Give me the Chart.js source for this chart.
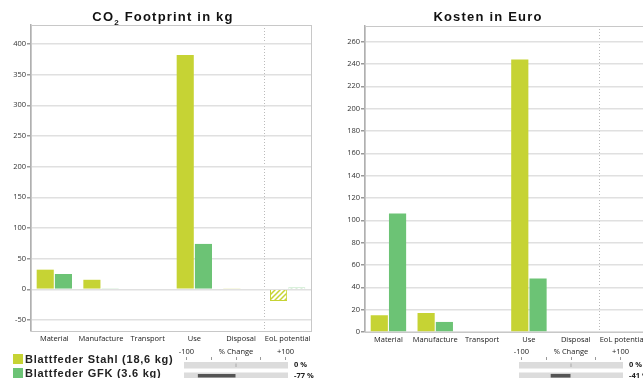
<!DOCTYPE html>
<html lang="de">
<head>
<meta charset="UTF-8">
<title>Blattfeder Vergleich</title>
<style>
  body { margin: 0; width: 643px; height: 378px; overflow: hidden; background: #fff; position: relative; font-family: 'Liberation Sans', Arial, sans-serif; }
  canvas { position: absolute; }
  .titel { position: absolute; top: 9px; width: 200px; line-height: 15px; font-weight: bold; font-size: 13px; letter-spacing: 1.2px; color: #111; text-align: center; white-space: nowrap; }
  .titel sub { font-size: 8px; line-height: 0; }
  #legende { position: absolute; left: 13px; top: 352px; font-weight: bold; font-size: 11px; letter-spacing: 0.75px; color: #222; }
  #legende div { height: 14px; line-height: 14px; white-space: nowrap; }
  #legende span { display: inline-block; width: 10px; height: 10px; margin-right: 2px; vertical-align: -1px; }
</style>
<script src="https://cdn.jsdelivr.net/npm/chart.js"></script>
</head>
<body>
<canvas id="co2" width="320" height="351" style="left:0;top:0"></canvas>
<canvas id="kosten" width="335" height="352" style="left:320px;top:0"></canvas>
<canvas id="aenderungCo2" width="178" height="36" style="left:150px;top:345px"></canvas>
<canvas id="aenderungKosten" width="178" height="36" style="left:485px;top:345px"></canvas>
<div class="titel" style="left:63px">CO<sub>2</sub> Footprint in kg</div>
<div class="titel" style="left:388px">Kosten in Euro</div>
<div id="legende"></div>

<script>
  // Daten
  const kategorien = ['Material', 'Manufacture', 'Transport', 'Use', 'Disposal', 'EoL potential'];
  const serien = ['Blattfeder Stahl (18,6 kg)', 'Blattfeder GFK (3.6 kg)'];
  const farben = ['#c6d334', '#6cc375'];

  const co2Stahl = [32, 15.5, 0, 382, 1, -19];
  const co2Gfk = [25, 1, 0, 74, 0, 3];
  const kostenStahl = [15, 17, 0, 244, 0, 0];
  const kostenGfk = [106, 9, 0, 48, 0, 0];

  const co2Ticks = [-50, 0, 50, 100, 150, 200, 250, 300, 350, 400];
  const kostenTicks = [0, 20, 40, 60, 80, 100, 120, 140, 160, 180, 200, 220, 240, 260];

  const aenderungCo2 = [0, -77];
  const aenderungKosten = [0, -41];
  const aenderungTicks = [-100, -50, 0, 50, 100];

  const schrift = { family: "'Open Sans', sans-serif", size: 7.5 };

  // Schraffur fuer "EoL potential"
  function schraffur(farbe) {
    const c = document.createElement('canvas');
    c.width = 5; c.height = 5;
    const g = c.getContext('2d');
    g.fillStyle = '#fff';
    g.fillRect(0, 0, 5, 5);
    g.strokeStyle = farbe;
    g.lineWidth = 1.5;
    g.beginPath();
    g.moveTo(0, 5); g.lineTo(5, 0);
    g.moveTo(-1, 1); g.lineTo(1, -1);
    g.moveTo(4, 6); g.lineTo(6, 4);
    g.stroke();
    return g.createPattern(c, 'repeat');
  }
  const muster = farben.map(schraffur);

  // Rahmen um die Plotflaeche
  const rahmen = {
    id: 'rahmen',
    beforeDatasetsDraw(chart) {
      const { ctx, chartArea: a } = chart;
      ctx.save();
      ctx.strokeStyle = '#c8c8c8';
      ctx.lineWidth = 1;
      ctx.strokeRect(a.left + 0.5, a.top + 0.5, a.right - a.left, a.bottom - a.top);
      ctx.restore();
    }
  };

  function balkenDiagramm(id, stahl, gfk, ticks, min, max, links, oben) {
    new Chart(document.getElementById(id), {
      type: 'bar',
      data: {
        labels: kategorien,
        datasets: [stahl, gfk].map((werte, i) => ({
          label: serien[i],
          data: werte,
          backgroundColor: c => c.dataIndex === 5 ? muster[i] : farben[i],
          borderColor: farben[i],
          borderWidth: c => c.dataIndex === 5 ? 1 : 0,
          categoryPercentage: 0.78,
          barPercentage: 0.94
        }))
      },
      options: {
        responsive: false,
        animation: false,
        layout: { padding: { left: links, top: oben, right: 9, bottom: 0 } },
        plugins: { legend: { display: false }, tooltip: { enabled: false } },
        scales: {
          x: {
            grid: { color: c => c.index === 5 ? '#bbb' : 'transparent', drawTicks: false, lineWidth: 1 },
            border: { color: '#bbb', dash: c => c.index === 5 ? [1, 2] : [] },
            ticks: { font: schrift, color: '#222', padding: 3, maxRotation: 0, autoSkip: false },
            afterFit: s => { s.height = 20; }
          },
          y: {
            min: min,
            max: max,
            afterBuildTicks: s => { s.ticks = ticks.map(v => ({ value: v })); },
            grid: { color: '#e0e0e0', lineWidth: 1.5, tickLength: 4, tickColor: '#999' },
            border: { color: '#b0b0b0', width: 1.5 },
            ticks: { font: schrift, color: '#333', padding: 1 },
            afterFit: s => { s.width = 31; }
          }
        }
      },
      plugins: [rahmen]
    });
  }

  function aenderungDiagramm(id, werte) {
    new Chart(document.getElementById(id), {
      type: 'bar',
      data: {
        labels: werte.map(v => v + ' %'),
        datasets: [
          {
            data: werte.map(v => [0, v]),
            backgroundColor: werte.map(v => v === 0 ? '#aaa' : '#555'),
            barPercentage: 0.35, categoryPercentage: 1, minBarLength: 1, grouped: false, order: 0
          },
          {
            data: werte.map(() => [-105, 105]),
            backgroundColor: '#dcdcdc',
            barPercentage: 0.6, categoryPercentage: 1, grouped: false, order: 1
          }
        ]
      },
      options: {
        indexAxis: 'y',
        responsive: false,
        animation: false,
        layout: { padding: { left: 34 } },
        plugins: { legend: { display: false }, tooltip: { enabled: false } },
        scales: {
          x: {
            position: 'top',
            min: -105,
            max: 105,
            afterBuildTicks: s => { s.ticks = aenderungTicks.map(v => ({ value: v })); },
            ticks: {
              callback: v => v === -100 ? '-100' : v === 100 ? '+100' : v === 0 ? '% Change' : '',
              font: schrift, color: '#222', padding: 1, maxRotation: 0, autoSkip: false
            },
            grid: { drawOnChartArea: false, tickLength: 3, tickColor: '#999' },
            border: { display: false },
            afterFit: s => { s.height = 15; }
          },
          y: {
            position: 'right',
            grid: { display: false, drawTicks: false },
            border: { display: false },
            ticks: { font: { family: schrift.family, size: 7.5, weight: 'bold' }, color: '#222', padding: 6, autoSkip: false },
            afterFit: s => { s.width = 40; s.paddingTop = 0; s.paddingBottom = 0; }
          }
        }
      }
    });
  }

  balkenDiagramm('co2', co2Stahl, co2Gfk, co2Ticks, -68, 431, 0, 25);
  balkenDiagramm('kosten', kostenStahl, kostenGfk, kostenTicks, 0, 274, 14, 26);
  aenderungDiagramm('aenderungCo2', aenderungCo2);
  aenderungDiagramm('aenderungKosten', aenderungKosten);

  // Legende
  document.getElementById('legende').innerHTML = serien
    .map((s, i) => `<div><span style="background:${farben[i]}"></span>${s}</div>`)
    .join('');
</script>
</body>
</html>
